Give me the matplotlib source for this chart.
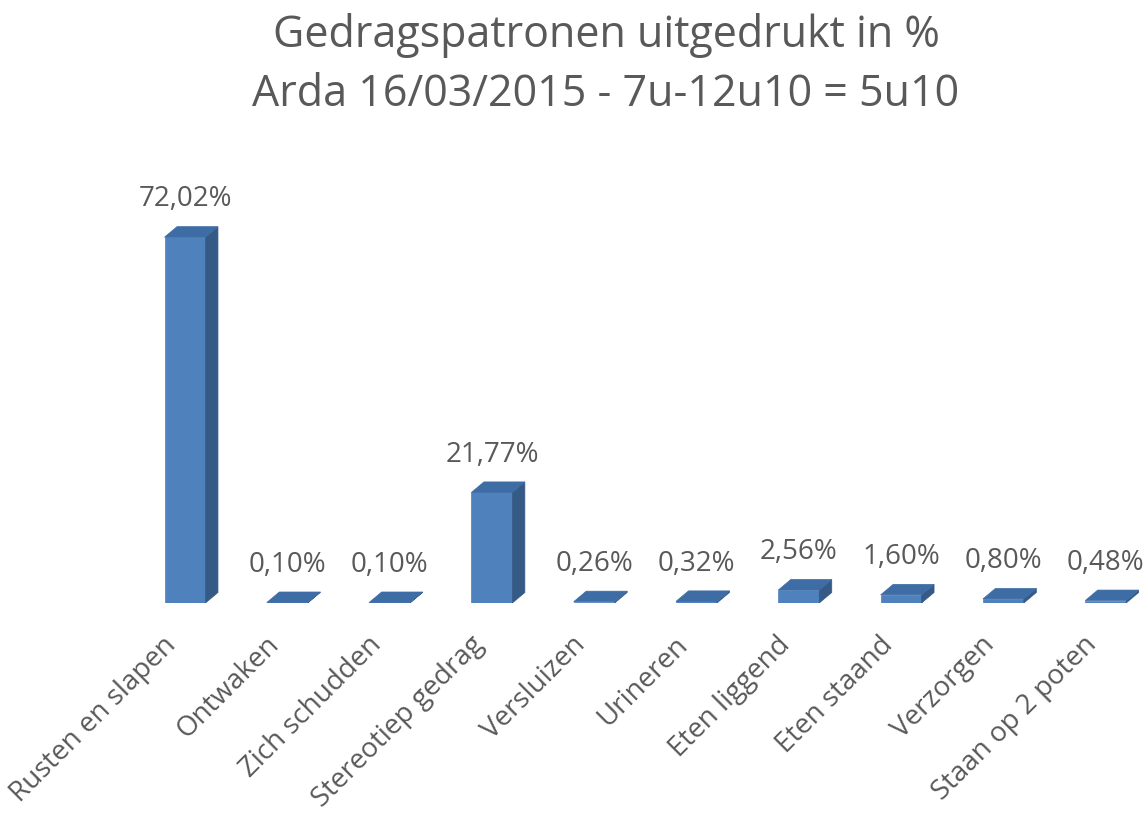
"""Gedragspatronen Arda - 3D-style bar chart"""
import matplotlib
matplotlib.use("Agg")
from matplotlib import pyplot as plt
from matplotlib.patches import Polygon

categories = ["Rusten en slapen", "Ontwaken", "Zich schudden", "Stereotiep gedrag",
              "Versluizen", "Urineren", "Eten liggend", "Eten staand",
              "Verzorgen", "Staan op 2 poten"]
values = [72.02, 0.10, 0.10, 21.77, 0.26, 0.32, 2.56, 1.60, 0.80, 0.48]
value_labels = ["72,02%", "0,10%", "0,10%", "21,77%", "0,26%", "0,32%",
                "2,56%", "1,60%", "0,80%", "0,48%"]
title_lines = ["Gedragspatronen uitgedrukt in %", "Arda 16/03/2015 - 7u-12u10 = 5u10"]

FRONT = "#4F81BD"
TOP = "#3E6CA4"
SIDE = "#365A86"
TEXT = "#595959"
plt.rcParams["font.family"] = ["Open Sans", "DejaVu Sans"]

W, H = 1148, 816
fig = plt.figure(figsize=(W / 100, H / 100), dpi=100)
fig.patch.set_facecolor("white")

step_px = 102.3
base_px = 603
ymax = 80
ppp = 5.08  # pixels per percent
ax = fig.add_axes([(185 - step_px / 2) / W, (H - base_px) / H,
                   10 * step_px / W, ymax * ppp / H])
ax.set_xlim(-0.5, 9.5)
ax.set_ylim(0, ymax)
ax.axis("off")

bw = 0.40
dx = 12.5 / step_px
dy = 10.5 / ppp

for i, v in enumerate(values):
    x0, x1 = i - bw / 2, i + bw / 2
    ax.bar(i, v, width=bw, color=FRONT, edgecolor=FRONT, linewidth=0.5, zorder=2)
    ax.add_patch(Polygon([(x1, 0), (x1 + dx, dy), (x1 + dx, v + dy), (x1, v)],
                         closed=True, facecolor=SIDE, edgecolor=SIDE, lw=0.5, zorder=2))
    ax.add_patch(Polygon([(x0, v), (x1, v), (x1 + dx, v + dy), (x0 + dx, v + dy)],
                         closed=True, facecolor=TOP, edgecolor=TOP, lw=0.5, zorder=3))
    ax.text(i, v + dy + 2.6, value_labels[i], ha="center", va="bottom",
            fontsize=20, color=TEXT, clip_on=False)
    ax.text(i - 0.22, -5.5, categories[i], rotation=45, rotation_mode="anchor",
            ha="right", va="top", fontsize=20, color=TEXT, clip_on=False)

fig.text(606 / W, 1 - 36 / H, title_lines[0], ha="center", va="center",
         fontsize=31, color=TEXT)
fig.text(606 / W, 1 - 95 / H, title_lines[1], ha="center", va="center",
         fontsize=31, color=TEXT)

fig.savefig("out.png", dpi=100, facecolor="white")
